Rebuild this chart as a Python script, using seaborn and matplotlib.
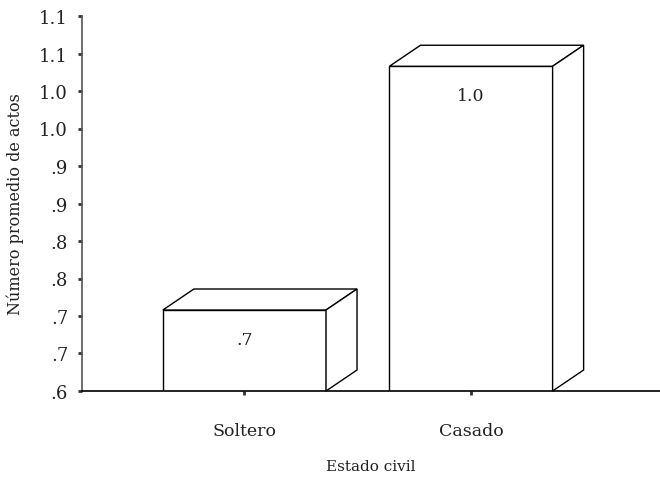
import matplotlib
matplotlib.use("Agg")
import matplotlib.pyplot as plt
import seaborn as sns
import pandas as pd
from matplotlib.patches import Polygon

categories = ["Soltero", "Casado"]
values = [0.708, 1.033]
value_labels = [".7", "1.0"]
ytick_values = [0.60, 0.65, 0.70, 0.75, 0.80, 0.85, 0.90, 0.95, 1.00, 1.05, 1.10]
ytick_labels = [".6", ".7", ".7", ".8", ".8", ".9", ".9", "1.0", "1.0", "1.1", "1.1"]

sns.set_theme(style="white")
plt.rcParams['font.family'] = ['DejaVu Serif']

df = pd.DataFrame({"Estado civil": categories, "valor": values})

fig = plt.figure(figsize=(6.6, 4.81), dpi=100)
ax = fig.add_axes([82/660, 89/481, 578/660, 375/481])

base = 0.6
sns.barplot(data=df, x="Estado civil", y="valor", order=categories, ax=ax,
            color="white", edgecolor="black", linewidth=1.0, width=0.72,
            bottom=0, zorder=2)

ax.set_ylim(base, 1.1)
ax.set_xlim(-0.717, 1.834)

# 3D depth offsets in data units
dx = 31 / 226.5
dy = 21 / 750.0

for patch, lab in zip(ax.patches, value_labels):
    x0 = patch.get_x()
    w = patch.get_width()
    x1 = x0 + w
    top = patch.get_height() + patch.get_y()
    topface = Polygon([(x0, top), (x0 + dx, top + dy), (x1 + dx, top + dy), (x1, top)],
                      closed=True, facecolor="white", edgecolor="black", linewidth=1.0,
                      clip_on=False, zorder=3)
    side = Polygon([(x1, base), (x1 + dx, base + dy), (x1 + dx, top + dy), (x1, top)],
                   closed=True, facecolor="white", edgecolor="black", linewidth=1.0,
                   clip_on=False, zorder=3)
    ax.add_patch(topface)
    ax.add_patch(side)
    ax.text(x0 + w / 2, top - 0.039, lab, ha="center", va="center",
            fontsize=12.5, color="#222222", zorder=4)

ax.set_yticks(ytick_values)
ax.set_yticklabels(ytick_labels)
ax.tick_params(axis="y", which="major", direction="out", length=3, width=2,
               color="#333333", labelsize=13, pad=7, labelcolor="#222222", left=True)
ax.tick_params(axis="x", which="major", direction="out", length=3, width=2,
               color="#333333", labelsize=12.5, pad=19, labelcolor="#222222", bottom=True)

for s in ["top", "right"]:
    ax.spines[s].set_visible(False)
ax.spines["left"].set_color("#555555")
ax.spines["left"].set_linewidth(1.2)
ax.spines["bottom"].set_color("black")
ax.spines["bottom"].set_linewidth(1.2)

ax.set_xlabel("Estado civil", fontsize=11, labelpad=15, color="#222222")
ax.set_ylabel("Número promedio de actos", fontsize=11.5, labelpad=11, color="#222222")

fig.savefig("out.png", dpi=100)
